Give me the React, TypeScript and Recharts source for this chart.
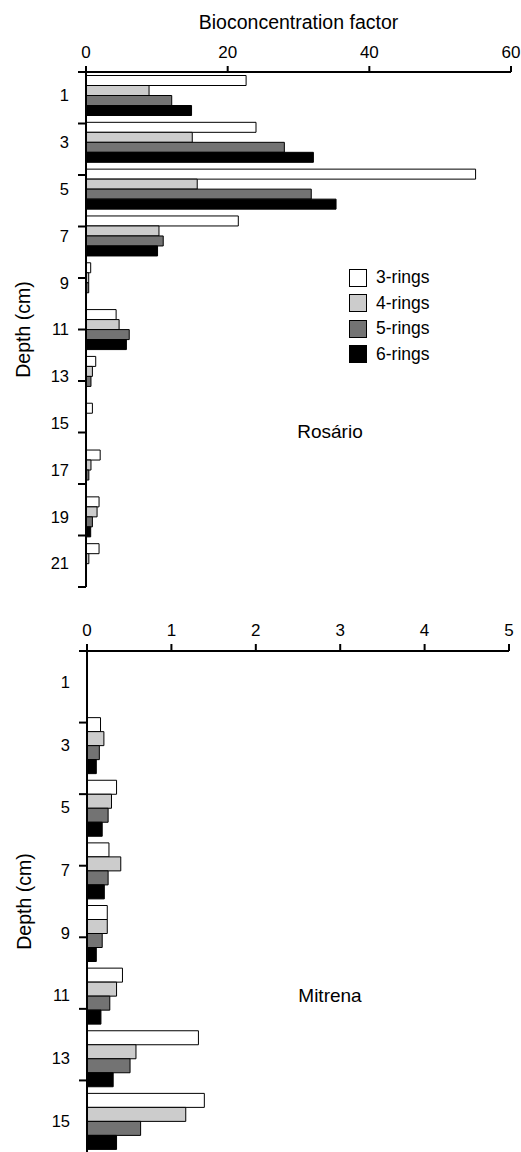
import { Bar, BarChart, Legend, XAxis, YAxis } from "recharts";

const FONT = '"Liberation Sans", Arial, Helvetica, sans-serif';

// Rosário core
const rosarioDepths = ["1", "3", "5", "7", "9", "11", "13", "15", "17", "19", "21"];
const rosario3 = [22.6, 24.0, 55.0, 21.5, 0.66, 4.25, 1.37, 0.9, 2.0, 1.84, 1.84];
const rosario4 = [8.9, 15.0, 15.7, 10.3, 0.38, 4.67, 0.9, 0, 0.7, 1.56, 0.4];
const rosario5 = [12.1, 28.0, 31.8, 10.9, 0.38, 6.1, 0.7, 0, 0.4, 0.9, 0];
const rosario6 = [14.9, 32.1, 35.3, 10.1, 0, 5.7, 0, 0, 0, 0.66, 0];
const rosarioTicks = [0, 20, 40, 60];

// Mitrena core
const mitrenaDepths = ["1", "3", "5", "7", "9", "11", "13", "15"];
const mitrena3 = [0, 0.16, 0.35, 0.26, 0.24, 0.42, 1.32, 1.39];
const mitrena4 = [0, 0.2, 0.29, 0.4, 0.24, 0.35, 0.58, 1.17];
const mitrena5 = [0, 0.146, 0.25, 0.25, 0.18, 0.27, 0.51, 0.635];
const mitrena6 = [0, 0.11, 0.18, 0.205, 0.11, 0.165, 0.31, 0.35];
const mitrenaTicks = [0, 1, 2, 3, 4, 5];

const seriesKeys = ["r3", "r4", "r5", "r6"];
const seriesNames = ["3-rings", "4-rings", "5-rings", "6-rings"];
const seriesColors = ["#ffffff", "#cccccc", "#737373", "#000000"];

function buildRows(depths: string[], s3: number[], s4: number[], s5: number[], s6: number[]) {
  return depths.map((depth, i) => ({ depth, r3: s3[i], r4: s4[i], r5: s5[i], r6: s6[i] }));
}

const rosarioRows = buildRows(rosarioDepths, rosario3, rosario4, rosario5, rosario6);
const mitrenaRows = buildRows(mitrenaDepths, mitrena3, mitrena4, mitrena5, mitrena6);

function RingsLegend({ payload }: any) {
  return (
    <div style={{ fontFamily: FONT }}>
      {(payload || []).map((entry: any) => (
        <div key={entry.value} style={{ display: "flex", alignItems: "center", height: 25.5 }}>
          <span
            style={{
              display: "inline-block",
              width: 18,
              height: 18,
              boxSizing: "border-box",
              background: entry.color,
              border: "1.5px solid #000",
            }}
          />
          <span style={{ marginLeft: 9, fontSize: 17.5, color: "#000" }}>{entry.value}</span>
        </div>
      ))}
    </div>
  );
}

interface PanelProps {
  rows: any[];
  xMax: number;
  xTicks: number[];
  height: number;
  axisHeight: number;
  margin: { top: number; right: number; bottom: number; left: number };
  xTickSize: number;
  gap: number;
  title?: string;
  withLegend?: boolean;
}

// axes need a width above 0 or recharts skips them; keep it tiny so both sit on the plot edge
const THIN = 0.01;

function DepthPanel({ rows, xMax, xTicks, height, axisHeight, margin, xTickSize, gap, title, withLegend }: PanelProps) {
  const edges = rows.map((_, i) => i).concat(rows.length);
  return (
    <BarChart
      width={521}
      height={height}
      data={rows}
      layout="vertical"
      margin={margin}
      barGap={0}
      barCategoryGap={gap}
      style={{ fontFamily: FONT }}
    >
      <XAxis
        type="number"
        orientation="top"
        domain={[0, xMax]}
        ticks={xTicks}
        height={axisHeight}
        tickSize={xTickSize}
        tickMargin={8}
        tick={{ fill: "#000", stroke: "none", fontSize: 17 }}
        axisLine={{ stroke: "#000", strokeWidth: 2 }}
        tickLine={{ stroke: "#000", strokeWidth: 2 }}
        label={title ? { value: title, position: "insideTop", offset: 15, fill: "#000", fontSize: 19.5 } : undefined}
      />
      {/* boundary ticks between depth slices */}
      <YAxis
        yAxisId="edge"
        type="number"
        domain={[0, rows.length]}
        ticks={edges}
        width={THIN}
        tickSize={8}
        tickFormatter={() => ""}
        axisLine={{ stroke: "#000", strokeWidth: 2 }}
        tickLine={{ stroke: "#000", strokeWidth: 2 }}
        label={{ value: "Depth (cm)", angle: -90, position: "center", dx: -63, fill: "#000", fontSize: 19.5 }}
      />
      <YAxis
        yAxisId="cat"
        type="category"
        dataKey="depth"
        width={THIN}
        axisLine={false}
        tickLine={false}
        tickSize={0}
        tickMargin={17}
        interval={0}
        tick={{ fill: "#000", stroke: "none", fontSize: 16.5 }}
      />
      {withLegend && (
        <Legend
          layout="vertical"
          align="center"
          verticalAlign="middle"
          content={<RingsLegend />}
          wrapperStyle={{ left: 349, top: 265, width: 120 }}
        />
      )}
      {seriesKeys.map((key, i) => (
        <Bar
          key={key}
          yAxisId="cat"
          dataKey={key}
          name={seriesNames[i]}
          fill={seriesColors[i]}
          stroke="#000"
          strokeWidth={1}
          isAnimationActive={false}
        />
      ))}
    </BarChart>
  );
}

const siteStyle: React.CSSProperties = {
  position: "absolute",
  transform: "translate(-50%, -50%)",
  fontFamily: FONT,
  fontSize: 19,
  color: "#000",
  whiteSpace: "nowrap",
};

export default function App() {
  return (
    <div style={{ position: "absolute", left: 0, top: 0, width: 521, height: 1152, background: "#fff" }}>
      <div style={{ position: "absolute", left: 0, top: 0 }}>
        <DepthPanel
          rows={rosarioRows}
          xMax={60}
          xTicks={rosarioTicks}
          height={600}
          axisHeight={72}
          margin={{ top: 0, right: 10, bottom: 13, left: 86 }}
          xTickSize={6}
          gap={3.5}
          title="Bioconcentration factor"
          withLegend
        />
      </div>
      <div style={{ ...siteStyle, left: 330, top: 432 }}>Rosário</div>
      <div style={{ position: "absolute", left: 0, top: 600 }}>
        <DepthPanel
          rows={mitrenaRows}
          xMax={5}
          xTicks={mitrenaTicks}
          height={552}
          axisHeight={51}
          margin={{ top: 0, right: 12, bottom: 0, left: 87 }}
          xTickSize={7}
          gap={4}
        />
      </div>
      <div style={{ ...siteStyle, left: 330, top: 996 }}>Mitrena</div>
    </div>
  );
}
